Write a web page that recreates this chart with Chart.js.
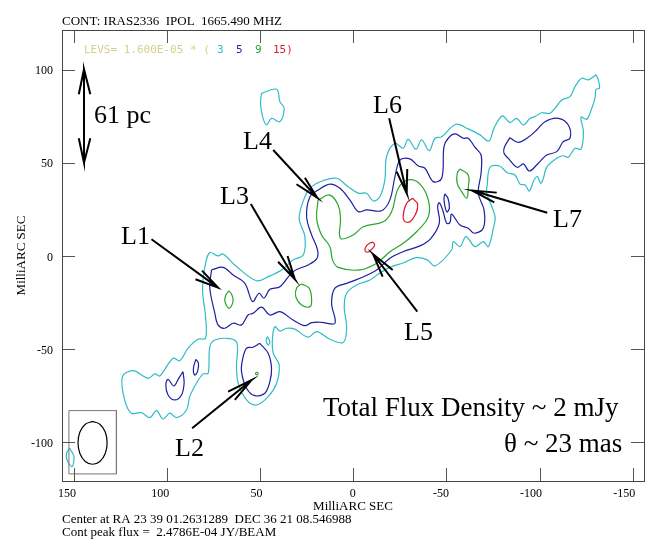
<!DOCTYPE html>
<html>
<head>
<meta charset="utf-8">
<title>IRAS2336 continuum map</title>
<script src="https://cdn.jsdelivr.net/npm/chart.js@4/dist/chart.umd.js"></script>
<style>
  html, body { margin: 0; padding: 0; background: #fff; }
  canvas { display: block; }
</style>
</head>
<body>
<canvas id="map" width="656" height="546"></canvas>
<script>
const xTicks = [150, 100, 50, 0, -50, -100, -150];
const yTicks = [100, 50, 0, -50, -100];

// contours, [ra offset, dec offset] in mas
const cyanMain = [[-130.3,97.3],[-131.5,94.5],[-132.1,90],[-130.3,89.5],[-129.7,84.7],[-128,79.3],[-125.3,73.4],[-122.2,74.5],[-123.5,66.7],[-122.2,57.3],[-119,57.8],[-115.4,53],[-112.7,53.8],[-109.2,52.4],[-103.8,47.6],[-102,41.7],[-100.6,39],[-98.8,42.6],[-97,40.8],[-94.5,34.9],[-92.2,38.1],[-89.5,38.6],[-86.8,43.5],[-82.7,44.7],[-78.4,48.3],[-73.4,47.6],[-71.9,38.1],[-71.6,33.8],[-76.1,21.1],[-75.2,14.9],[-72.5,5],[-69.8,7.7],[-65.3,5],[-60.5,10.4],[-57.3,5],[-53.7,7.7],[-52.8,3.2],[-43.9,-5.4],[-39.7,-2.1],[-33.7,-0.9],[-26.7,-3.8],[-20.6,-5.7],[-14.3,-9.1],[-9,-12.9],[-1.8,-15.6],[3.5,-20],[4.8,-27.2],[3.5,-38.8],[5.4,-46.5],[12.5,-44.7],[19.6,-40.6],[24.2,-43.6],[31.3,-39.3],[35.8,-38.8],[39.3,-40.3],[42,-38],[43.3,-44.2],[42.9,-52.2],[39.7,-58.5],[41.1,-68.3],[45.6,-75.5],[51.9,-80],[57.2,-77.3],[61.7,-68.3],[62.6,-59.4],[62.3,-46.9],[66.2,-44.4],[74.2,-45.1],[76.9,-48.7],[77.8,-63],[80.5,-63.3],[84.1,-68.3],[87.7,-75.5],[89.4,-82.7],[94.8,-86.8],[98.4,-84.4],[102,-87.5],[105.5,-83],[109.1,-86.8],[113.6,-84.1],[119,-84.4],[122.6,-77.3],[123.8,-64.8],[118.1,-61.6],[110,-65.7],[106.4,-63.3],[103.8,-64.4],[96.6,-54.9],[93,-56.2],[88.6,-49.5],[83.2,-44.7],[79.2,-44.2],[79.2,-32.6],[80.8,-18.3],[79.2,-3.9],[76.9,1.8],[72.5,0],[69.8,1.1],[62.6,-5.7],[51.9,-13.3],[45.6,-11.1],[38.4,-7.5],[32.2,-2.1],[26.8,0.5],[25.9,10.4],[29,20.2],[25.9,31.8],[22.3,37.2],[16.1,40.4],[8.9,41.7],[2.7,37.2],[-2.7,33.7],[-7.2,33.7],[-10.7,29.5],[-14.3,31.8],[-17,40.8],[-17.9,53.3],[-22.4,60.5],[-26.8,57.8],[-29.5,62.6],[-33.7,57.3],[-36.7,62.3],[-40.8,56.5],[-43.9,63.2],[-47.5,64],[-55.1,70.7],[-61.7,68.2],[-68,65],[-72.8,61.7],[-75.5,68.5],[-80,75.2],[-84.1,71.6],[-87.7,73.9],[-91.3,70.3],[-94.9,73.9],[-97.5,74.8],[-101.1,76.9],[-105.6,76.6],[-111.9,83.7],[-116.3,85.5],[-119,90.9],[-122.6,95.4],[-126.1,94.5]];
const cyanTop = [[49.2,87.3],[41.1,89.5],[39.3,82.8],[37,79.3],[39.3,72.1],[43.8,73.9],[46.5,70.3],[48.6,74.8],[49.7,82]];
const cyanSliver = [[46,-43.3],[44.7,-46],[45.6,-47.8],[46.7,-45.5]];
const cyanCorner = [[152.1,-103.2],[149.8,-107.7],[150.8,-113.1],[153.5,-109.5],[153.8,-105.9]];

const blueMain = [[76,-7.5],[69.8,-6.1],[64.4,-10.2],[58.1,-14.7],[54,-24.5],[50.5,-20],[47.9,-22.7],[44.7,-17.9],[39.3,-16.5],[32.2,-8.4],[24.2,-4.8],[19.6,-1.6],[19.1,3.2],[22.3,11.3],[25,21.1],[23.2,31.8],[18.8,35.4],[12.5,38.6],[7.1,36.3],[1.8,30.1],[-2.7,23.8],[-7.2,24.7],[-15.2,24.3],[-19.7,30.1],[-22.4,42.6],[-25.1,51.5],[-30.4,52.1],[-34.9,48.3],[-38.5,47.1],[-42.9,39.9],[-47.5,41.7],[-48.7,58.7],[-51,63.2],[-54.6,65.5],[-59,63.2],[-61.7,63.2],[-65.3,58.4],[-68.6,54.2],[-68.6,44.4],[-67.1,33.7],[-70.2,24.7],[-69.8,14.9],[-64.8,12.2],[-61.7,14.9],[-57.3,16.6],[-52.8,22.5],[-51.9,17.9],[-50.1,17.6],[-48,24.7],[-46.2,28.6],[-45.3,26.5],[-46.2,17.6],[-41.7,9.5],[-35.8,5.4],[-26.8,2.3],[-19.7,-1.2],[-12.6,-7.5],[-3.6,-12],[3.5,-14.7],[9.8,-17.3],[11.6,-25.4],[9.8,-36.1],[17,-35.6],[22.3,-35.8],[25.9,-37.4],[32.2,-34.4],[39.3,-29.9],[44.7,-31.7],[49.2,-27.5],[53.7,-30.8],[56.4,-31.7],[59.9,-37],[64.4,-36.1],[68.9,-38.8],[72.5,-37],[74.2,-30.8],[76.9,-17.3]];
const blueSliver = [[-49.2,33.3],[-50.8,31.1],[-51.6,25.8],[-50.3,23.6],[-49.2,26.8],[-48.7,31.1]];
const blueL2 = [[50.1,-46.9],[53.7,-49],[57.2,-49.5],[59.4,-55.8],[59.9,-62.1],[57.2,-71],[52.8,-75],[47.4,-73.7],[44.7,-67.5],[43.8,-60.3],[45.6,-52.2]];
const blueSmall = [[84.4,-55.5],[83,-57.6],[83.5,-62.1],[85,-63.9],[85.7,-60.3]];
const blueHook = [[91.3,-62.1],[90.7,-68.3],[92.1,-74.6],[95.7,-77.3],[99.3,-74.6],[100.5,-69.2],[99.3,-66.2],[96.2,-69.8],[93.6,-65.7]];
const blueJet = [[-84.1,63.5],[-88.6,61],[-93.9,63.7],[-98.4,67.6],[-102.9,72.1],[-110,73.9],[-115.4,70.3],[-116.3,63.2],[-112.7,61.4],[-109.2,56],[-103.8,54.2],[-99.3,49.8],[-94.5,45.6],[-91.3,49.4],[-88,47.6],[-83.2,52.4],[-80.9,55.1],[-81.1,58.4]];

const greenMain = [[18.8,30.1],[12.5,32.7],[8.1,27.4],[6.8,20.2],[6.8,9.5],[0,11.3],[-5.4,15.7],[-16.1,18.4],[-20.6,23.8],[-24.2,36.3],[-29.5,40.8],[-35.8,38.6],[-40.3,30.1],[-40.3,21.1],[-34,13],[-26.8,6.8],[-19.7,2.3],[-12.6,-3.9],[-3.6,-7.5],[8.1,-6.1],[11.1,-2.1],[12.5,5],[17,11.3],[19.6,20.2]];
const greenL1 = [[66.7,-18.8],[65.2,-20.5],[64.4,-23.6],[65.2,-26.6],[66.6,-28.1],[68,-26.6],[68.9,-23.6],[68.1,-20.5]];
const greenL2 = [[51.7,-62.2],[51,-63],[51.7,-63.8],[52.4,-63]];
const greenL3 = [[27.7,-15],[23.6,-17.3],[22.3,-23.6],[23.2,-27.2],[27.7,-26.3],[30.8,-21.8],[30.4,-17.3]];
const greenL7 = [[-57.3,46.7],[-61.7,43.5],[-61.7,36.3],[-60.9,31],[-58.2,34.5],[-55.8,39],[-55.8,44.4]];

const redL6 = [[-31.9,31],[-34.6,27.4],[-32.2,20.2],[-28.7,18.1],[-26.8,21.1],[-28.7,28.3]];
const redL5 = [[-10.7,7.4],[-11.5,5.7],[-9.9,3.6],[-7.7,2],[-6.3,3.2],[-7.2,5.5],[-9,7]];

const beamOutline = [[139.8,-88.8],[135.9,-90.3],[133,-94.5],[132,-100.3],[133,-106],[135.9,-110.3],[139.8,-111.8],[143.7,-110.3],[146.6,-106],[147.6,-100.3],[146.6,-94.5],[143.7,-90.3]];
const beamBox = [[152.5,-83],[127,-83],[127,-117],[152.5,-117],[152.5,-83]];

// arrows: tail, tip, barb, tip, barb
const arrowL1 = [[108.2,9],[72.5,-17],[81.1,-7.9],[72.5,-17],[84.6,-12.5]];
const arrowL2 = [[86.4,-92.5],[54.5,-66.6],[67.1,-72.8],[54.5,-66.6],[63.5,-77.3]];
const arrowL3 = [[54.9,27.9],[31.3,-12.5],[40.3,-3.1],[31.3,-12.5],[35.2,0]];
const arrowL4 = [[42.9,56.9],[19.3,31.3],[30.4,38.5],[19.3,31.3],[25.9,42]];
const arrowL5 = [[-34.4,-29.9],[-10.7,0.9],[-21.2,-7.5],[-10.7,0.9],[-15.8,-11.1]];
const arrowL6 = [[-19.3,73.9],[-28.7,33.7],[-23.3,45.3],[-28.7,33.7],[-29,46.7]];
const arrowL7 = [[-104.1,23.2],[-63.9,35.1],[-77,34],[-63.9,35.1],[-75.7,28.8]];
const arrowScale = [[147.2,86.8],[144.4,100.2],[141,86.8],[144.4,100.2],[144.4,50.1],[147.2,63.2],[144.4,50.1],[141,63.2]];

const CYAN = '#2fbcc6';
const BLUE = '#1e1ea0';
const GREEN = '#2aa52a';
const RED = '#d8232a';

const closed = (pts) => pts.concat([pts[0]]);

const contour = (pts, color, tension = 0.35) => ({
  data: closed(pts),
  borderColor: color,
  borderWidth: 1.2,
  tension,
  pointRadius: 0,
  showLine: true,
  fill: false,
});

const arrow = (pts) => ({
  data: pts,
  borderColor: '#000',
  borderWidth: 2,
  tension: 0,
  pointRadius: 0,
  showLine: true,
  fill: false,
});

const datasets = [
  ...[arrowL1, arrowL2, arrowL3, arrowL4, arrowL5, arrowL6, arrowL7, arrowScale].map(arrow),
  contour(beamOutline, '#000', 0.4),
  { data: beamBox, borderColor: '#777', borderWidth: 1, tension: 0, pointRadius: 0, showLine: true },
  ...[redL6, redL5].map((p) => contour(p, RED, 0.45)),
  ...[greenMain, greenL1, greenL2, greenL3, greenL7].map((p) => contour(p, GREEN, 0.4)),
  ...[blueMain, blueSliver, blueL2, blueSmall, blueHook, blueJet].map((p) => contour(p, BLUE)),
  ...[cyanMain, cyanTop, cyanSliver, cyanCorner].map((p) => contour(p, CYAN)),
];

const SERIF = '"Liberation Serif", serif';
const MONO = '"DejaVu Sans Mono", monospace';

const notes = [
  { text: 'CONT: IRAS2336  IPOL  1665.490 MHZ', x: 62, y: 25, size: 13 },
  { text: 'Center at RA 23 39 01.2631289  DEC 36 21 08.546988', x: 62, y: 523, size: 13 },
  { text: 'Cont peak flux =  2.4786E-04 JY/BEAM', x: 62, y: 536, size: 13 },
  { text: '61 pc', x: 94, y: 123, size: 26 },
  { text: 'L1', x: 121, y: 244, size: 26 },
  { text: 'L2', x: 175, y: 456, size: 26 },
  { text: 'L3', x: 220, y: 204, size: 26 },
  { text: 'L4', x: 243, y: 149, size: 26 },
  { text: 'L5', x: 404, y: 340, size: 26 },
  { text: 'L6', x: 373, y: 113, size: 26 },
  { text: 'L7', x: 553, y: 227, size: 26 },
  { text: 'Total Flux Density ~ 2 mJy', x: 323, y: 416, size: 27 },
  { text: 'θ ~ 23 mas', x: 504, y: 452, size: 27 },
  { text: 'LEVS= 1.600E-05 * (', x: 84, y: 53, size: 11, family: MONO, color: '#d6d08c' },
  { text: '3', x: 217, y: 53, size: 11, family: MONO, color: CYAN },
  { text: '5', x: 236, y: 53, size: 11, family: MONO, color: BLUE },
  { text: '9', x: 255, y: 53, size: 11, family: MONO, color: GREEN },
  { text: '15)', x: 273, y: 53, size: 11, family: MONO, color: RED },
];

const framePlugin = {
  id: 'frame',
  afterDatasetsDraw(chart) {
    const { ctx, chartArea: a, scales } = chart;
    const tick = 13;
    ctx.save();
    ctx.strokeStyle = '#555';
    ctx.lineWidth = 1;
    ctx.beginPath();
    xTicks.forEach((v) => {
      const px = Math.round(scales.x.getPixelForValue(v)) + 0.5;
      ctx.moveTo(px, a.top); ctx.lineTo(px, a.top + tick);
      ctx.moveTo(px, a.bottom); ctx.lineTo(px, a.bottom - tick);
    });
    yTicks.forEach((v) => {
      const py = Math.round(scales.y.getPixelForValue(v)) + 0.5;
      ctx.moveTo(a.left, py); ctx.lineTo(a.left + tick, py);
      ctx.moveTo(a.right, py); ctx.lineTo(a.right - tick, py);
    });
    ctx.stroke();
    ctx.strokeStyle = '#444';
    ctx.strokeRect(a.left + 0.5, a.top + 0.5, a.right - a.left, a.bottom - a.top);
    ctx.restore();
  },
  afterDraw(chart) {
    const { ctx } = chart;
    ctx.save();
    ctx.textBaseline = 'alphabetic';
    notes.forEach((n) => {
      ctx.font = `${n.size}px ${n.family || SERIF}`;
      ctx.fillStyle = n.color || '#000';
      ctx.fillText(n.text, n.x, n.y);
    });
    ctx.restore();
  },
};

const axisFont = { family: SERIF, size: 12 };
const titleFont = { family: SERIF, size: 13 };

new Chart(document.getElementById('map'), {
  type: 'scatter',
  data: { datasets },
  plugins: [framePlugin],
  options: {
    responsive: false,
    animation: false,
    layout: { padding: { top: 30, right: 12, left: 0, bottom: 0 } },
    plugins: { legend: { display: false }, tooltip: { enabled: false } },
    scales: {
      x: {
        type: 'linear',
        reverse: true,
        min: -156,
        max: 156.2,
        afterBuildTicks: (scale) => { scale.ticks = xTicks.map((value) => ({ value })); },
        afterFit: (scale) => { scale.height = 65; },
        grid: { display: false, drawTicks: false },
        border: { display: false },
        ticks: { color: '#000', font: axisFont, padding: 6, align: 'end', labelOffset: 2.5, maxRotation: 0, autoSkip: false, callback: (v) => String(v) },
        title: { display: true, text: 'MilliARC SEC', color: '#000', font: titleFont, padding: { top: 0, bottom: 32 } },
      },
      y: {
        type: 'linear',
        min: -120.8,
        max: 121.3,
        afterBuildTicks: (scale) => { scale.ticks = yTicks.map((value) => ({ value })); },
        afterFit: (scale) => { scale.width = 62; },
        grid: { display: false, drawTicks: false },
        border: { display: false },
        ticks: { color: '#000', font: axisFont, padding: 9, labelOffset: 1.5, autoSkip: false, callback: (v) => String(v) },
        title: { display: true, text: 'MilliARC SEC', color: '#000', font: titleFont, padding: { top: 14, bottom: 0 } },
      },
    },
  },
});
</script>
</body>
</html>
